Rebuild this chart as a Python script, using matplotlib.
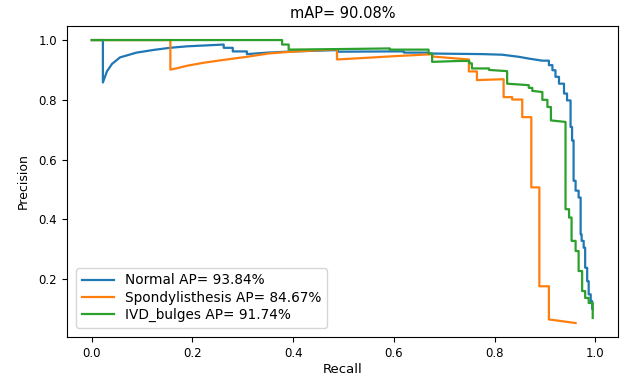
import matplotlib
matplotlib.use("Agg")
import matplotlib.pyplot as plt

title = "mAP= 90.08%"
labels = ["Normal AP= 93.84%", "Spondylisthesis AP= 84.67%", "IVD_bulges AP= 91.74%"]

recall_normal = [0.0, 0.022, 0.022, 0.03, 0.04, 0.056, 0.089, 0.123, 0.155, 0.189, 0.262, 0.262, 0.28, 0.28,
                 0.308, 0.308, 0.35, 0.40, 0.48, 0.488, 0.488, 0.60, 0.62, 0.62, 0.669, 0.669, 0.775, 0.815,
                 0.848, 0.868, 0.895, 0.908, 0.908, 0.915, 0.915, 0.921, 0.921, 0.928, 0.928, 0.938, 0.938,
                 0.944, 0.944, 0.951, 0.951, 0.954, 0.954, 0.957, 0.957, 0.961, 0.961, 0.967, 0.967, 0.971,
                 0.971, 0.973, 0.973, 0.977, 0.977, 0.980, 0.980, 0.984, 0.984, 0.987, 0.987, 0.991, 0.991,
                 0.994, 0.994, 0.995]
precision_normal = [1.0, 1.0, 0.858, 0.895, 0.92, 0.942, 0.958, 0.967, 0.974, 0.979, 0.985, 0.974, 0.974, 0.962,
                    0.962, 0.953, 0.958, 0.962, 0.966, 0.966, 0.961, 0.962, 0.962, 0.958, 0.958, 0.955, 0.953, 0.951,
                    0.944, 0.938, 0.931, 0.931, 0.916, 0.916, 0.899, 0.899, 0.877, 0.877, 0.854, 0.854, 0.821,
                    0.821, 0.798, 0.798, 0.709, 0.709, 0.664, 0.664, 0.529, 0.529, 0.496, 0.496, 0.473, 0.473,
                    0.350, 0.350, 0.328, 0.328, 0.305, 0.305, 0.238, 0.238, 0.193, 0.193, 0.149, 0.149, 0.126,
                    0.126, 0.100, 0.100]

recall_spondy = [0.0, 0.156, 0.156, 0.17, 0.189, 0.222, 0.255, 0.308, 0.351, 0.388, 0.44, 0.487, 0.487, 0.55,
                 0.60, 0.669, 0.676, 0.676, 0.749, 0.749, 0.765, 0.765, 0.818, 0.818, 0.835, 0.835, 0.855, 0.855,
                 0.873, 0.873, 0.889, 0.889, 0.908, 0.908, 0.961]
precision_spondy = [1.0, 1.0, 0.901, 0.906, 0.914, 0.924, 0.932, 0.944, 0.955, 0.960, 0.965, 0.969, 0.935, 0.941,
                    0.946, 0.952, 0.952, 0.945, 0.935, 0.895, 0.895, 0.866, 0.869, 0.809, 0.809, 0.801, 0.801, 0.742,
                    0.742, 0.507, 0.507, 0.176, 0.176, 0.065, 0.053]

recall_ivd = [0.0, 0.378, 0.378, 0.391, 0.391, 0.50, 0.592, 0.592, 0.669, 0.669, 0.676, 0.676, 0.729, 0.75, 0.75,
              0.755, 0.755, 0.789, 0.789, 0.825, 0.825, 0.868, 0.868, 0.875, 0.875, 0.895, 0.895, 0.905, 0.905,
              0.912, 0.912, 0.941, 0.941, 0.948, 0.948, 0.953, 0.953, 0.961, 0.961, 0.967, 0.967, 0.974, 0.974,
              0.980, 0.980, 0.987, 0.987, 0.995, 0.995]
precision_ivd = [1.0, 1.0, 0.985, 0.985, 0.968, 0.970, 0.972, 0.968, 0.968, 0.955, 0.955, 0.927, 0.930, 0.930, 0.922,
                 0.922, 0.905, 0.905, 0.900, 0.896, 0.854, 0.849, 0.840, 0.840, 0.830, 0.826, 0.800, 0.800, 0.776,
                 0.776, 0.731, 0.726, 0.434, 0.434, 0.406, 0.406, 0.328, 0.328, 0.294, 0.294, 0.227, 0.227, 0.160,
                 0.160, 0.137, 0.137, 0.120, 0.120, 0.070]

fig = plt.figure(figsize=(6.24, 3.81), dpi=100)
ax = fig.add_subplot(111)
fig.subplots_adjust(left=0.107, right=0.99, top=0.932, bottom=0.115)

ax.plot(recall_normal, precision_normal, color="#1f77b4", lw=1.6, label=labels[0])
ax.plot(recall_spondy, precision_spondy, color="#ff7f0e", lw=1.6, label=labels[1])
ax.plot(recall_ivd, precision_ivd, color="#2ca02c", lw=1.6, label=labels[2])

ax.set_title(title, fontsize=10.5, pad=6)
ax.set_xlabel("Recall", fontsize=9.5, labelpad=2)
ax.set_ylabel("Precision", fontsize=9, labelpad=6)
ax.tick_params(labelsize=8.5)
ax.legend(loc="lower left", fontsize=9.8, borderaxespad=0.7, labelspacing=0.25, handlelength=2.4)
ax.set_xticks([0.0, 0.2, 0.4, 0.6, 0.8, 1.0])
ax.set_yticks([0.2, 0.4, 0.6, 0.8, 1.0])

fig.savefig("out.png", dpi=100)
